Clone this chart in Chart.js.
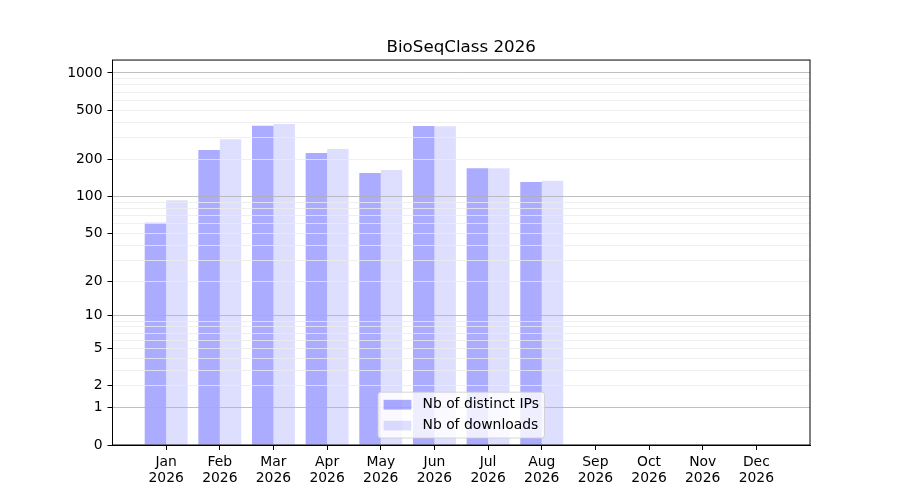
<!DOCTYPE html>
<html>
<head>
<meta charset="utf-8">
<title>BioSeqClass 2026</title>
<script src="https://cdn.jsdelivr.net/npm/chart.js@4.4.1/dist/chart.umd.min.js"></script>
<style>
  html, body { margin: 0; padding: 0; background: #fff; }
  #wrap { width: 900px; height: 500px; }
</style>
</head>
<body>
<div id="wrap"><canvas id="chart" width="900" height="500"></canvas></div>
<script>
const months = ["Jan", "Feb", "Mar", "Apr", "May", "Jun", "Jul", "Aug", "Sep", "Oct", "Nov", "Dec"];
const year = "2026";
const seriesNames = ["Nb of distinct IPs", "Nb of downloads"];
const distinctIPs = [61, 238, 375, 225, 155, 373, 170, 131, 0, 0, 0, 0];
const downloads = [93, 292, 387, 243, 164, 372, 170, 134, 0, 0, 0, 0];
const yTickLabels = [0, 1, 2, 5, 10, 20, 50, 100, 200, 500, 1000];
const yMajorGrid = [1, 10, 100, 1000];
const yMinorGrid = [2, 3, 4, 5, 6, 7, 8, 9, 20, 30, 40, 50, 60, 70, 80, 90, 200, 300, 400, 500, 600, 700, 800, 900];

const FONT = "DejaVu Sans";
const FS = 13.9;

// echelle log10(v + 1), comme le symlog de la figure d'origine
class Log1pScale extends Chart.Scale {
  parse(raw) {
    if (raw === null || raw === undefined) return null;
    return +raw;
  }
  determineDataLimits() {
    this.min = this.options.min;
    this.max = this.options.max;
  }
  buildTicks() {
    const all = [0].concat(yMajorGrid, yMinorGrid).sort((a, b) => a - b);
    return all.map((v) => ({ value: v }));
  }
  getLabelForValue(value) {
    return String(value);
  }
  configure() {
    super.configure();
    this._startValue = Math.log10(this.min + 1);
    this._valueRange = Math.log10(this.max + 1) - this._startValue;
  }
  getPixelForValue(value) {
    if (value === undefined || value === null) value = this.min;
    return this.getPixelForDecimal((Math.log10(value + 1) - this._startValue) / this._valueRange);
  }
  getValueForPixel(pixel) {
    const d = this.getDecimalForPixel(pixel);
    return Math.pow(10, this._startValue + d * this._valueRange) - 1;
  }
}
Log1pScale.id = "log1p";
Log1pScale.defaults = {};
Chart.register(Log1pScale);

// cadre noir autour de la zone du graphique
const frame = {
  id: "frame",
  afterDraw(chart) {
    const { ctx, chartArea } = chart;
    ctx.save();
    ctx.strokeStyle = "#000";
    ctx.lineWidth = 1;
    ctx.strokeRect(chartArea.left, chartArea.top, chartArea.right - chartArea.left, chartArea.bottom - chartArea.top);
    ctx.restore();
  },
};

// legende en bas au centre, dans la zone du graphique
const innerLegend = {
  id: "innerLegend",
  afterDraw(chart) {
    const { ctx, chartArea } = chart;
    const items = chart.data.datasets;
    ctx.save();
    ctx.font = FS + 'px "' + FONT + '"';
    const textW = Math.max(...items.map((d) => ctx.measureText(d.label).width));
    const pad = 0.4 * FS, handleW = 2 * FS, handleH = 0.7 * FS, gap = 0.8 * FS, rowH = FS, spacing = 0.5 * FS;
    const w = pad * 2 + handleW + gap + textW;
    const h = pad * 2 + items.length * rowH + (items.length - 1) * spacing;
    const x = (chartArea.left + chartArea.right) / 2 - w / 2;
    const y = chartArea.bottom - 0.5 * FS - h;
    ctx.beginPath();
    ctx.roundRect(x, y, w, h, 0.2 * FS);
    ctx.fillStyle = "rgba(255,255,255,0.8)";
    ctx.fill();
    ctx.strokeStyle = "rgba(204,204,204,0.8)";
    ctx.lineWidth = 1;
    ctx.stroke();
    items.forEach((d, i) => {
      const cy = y + pad + i * (rowH + spacing) + rowH / 2;
      ctx.fillStyle = d.backgroundColor;
      ctx.fillRect(x + pad, cy - handleH / 2, handleW, handleH);
      ctx.fillStyle = "#000";
      ctx.textBaseline = "middle";
      ctx.textAlign = "left";
      ctx.fillText(d.label, x + pad + handleW + gap, cy);
    });
    ctx.restore();
  },
};

Chart.defaults.font.family = FONT;
Chart.defaults.font.size = FS;
Chart.defaults.color = "#000";

new Chart(document.getElementById("chart"), {
  type: "bar",
  data: {
    datasets: [
      {
        label: seriesNames[0],
        data: distinctIPs.map((v, i) => ({ x: i, y: v })),
        backgroundColor: "rgba(0, 0, 255, 0.33)",
        borderWidth: 0,
      },
      {
        label: seriesNames[1],
        data: downloads.map((v, i) => ({ x: i, y: v })),
        backgroundColor: "rgba(0, 0, 255, 0.13)",
        borderWidth: 0,
      },
    ],
  },
  options: {
    responsive: false,
    animation: false,
    categoryPercentage: 0.8,
    barPercentage: 1.0,
    layout: { padding: { left: 0, right: 90, top: 0, bottom: 0 } },
    plugins: {
      legend: { display: false },
      tooltip: { enabled: false },
      title: {
        display: true,
        fullSize: false,
        text: "BioSeqClass " + year,
        font: { size: 16.7, weight: "normal" },
        color: "#000",
        padding: { top: 38, bottom: 2 },
      },
    },
    scales: {
      x: {
        type: "linear",
        min: -1,
        max: 12,
        offset: false,
        afterBuildTicks: (axis) => {
          axis.ticks = months.map((m, i) => ({ value: i }));
        },
        afterFit: (axis) => {
          axis.height = 55;
        },
        grid: {
          offset: false,
          drawOnChartArea: false,
          drawTicks: true,
          tickLength: 5,
          tickColor: "#000",
        },
        border: { display: true, color: "#000", width: 1 },
        ticks: {
          autoSkip: false,
          maxRotation: 0,
          padding: 4,
          font: { size: FS, lineHeight: 1.15 },
          callback: (v) => [months[v], year],
        },
      },
      y: {
        type: "log1p",
        min: 0,
        max: 1272,
        afterFit: (axis) => {
          axis.width = 112.5;
        },
        grid: {
          z: 1,
          lineWidth: 0.8,
          tickLength: 5,
          color: (c) => {
            const v = c.tick ? c.tick.value : null;
            if (v === 0) return "rgba(0,0,0,0)";
            return yMajorGrid.includes(v) ? "#b0b0b0" : "#ebebeb";
          },
          tickColor: (c) => (c.tick && yTickLabels.includes(c.tick.value) ? "#000" : "rgba(0,0,0,0)"),
          tickWidth: 1,
        },
        border: { display: false },
        ticks: {
          autoSkip: false,
          padding: 5,
          callback: (v) => (yTickLabels.includes(v) ? String(v) : ""),
        },
      },
    },
  },
  plugins: [frame, innerLegend],
});
</script>
</body>
</html>
